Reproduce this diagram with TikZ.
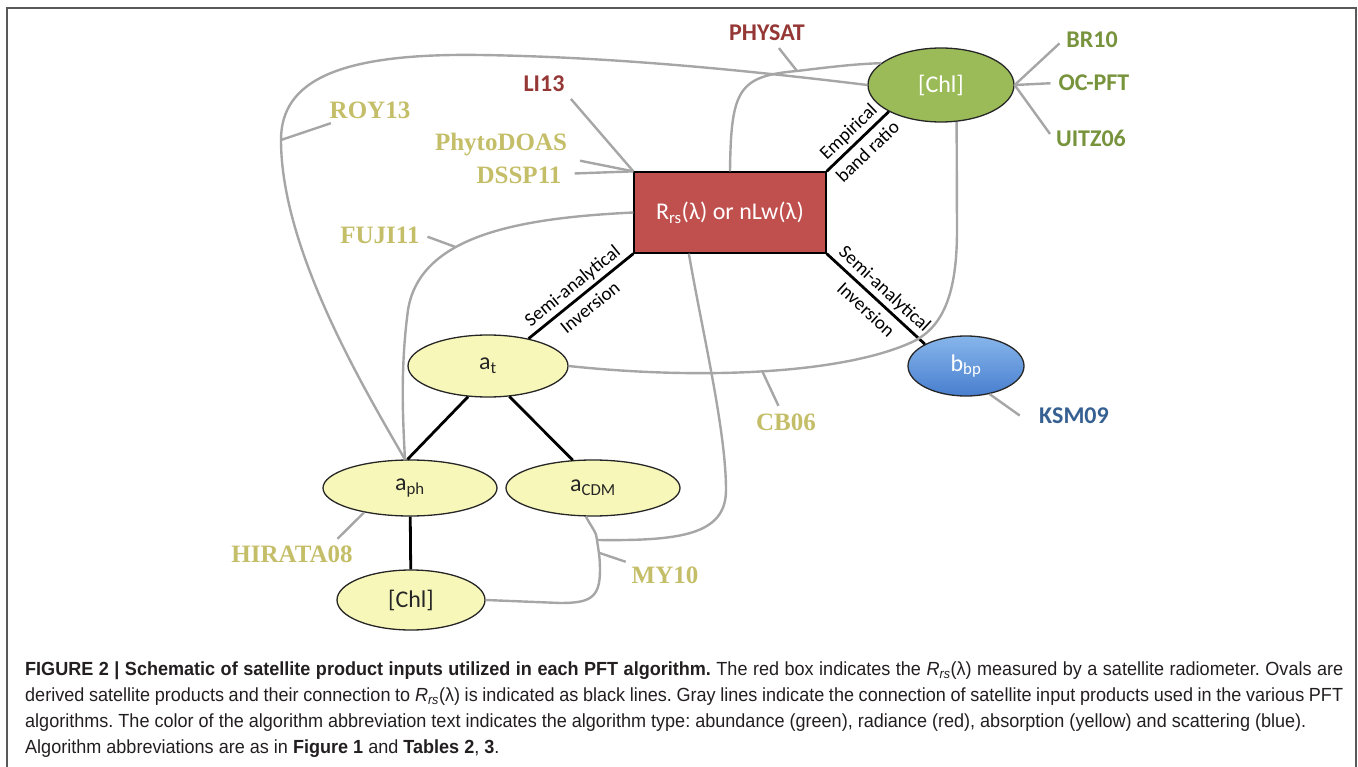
\documentclass[tikz,border=0pt]{standalone}
\usepackage{fontspec}
\setmainfont{Liberation Sans}
\newfontfamily\calfont{Carlito}
\newfontfamily\romfont{Liberation Serif}
\newfontfamily\capfont[FakeStretch=0.95]{Liberation Sans}
\usetikzlibrary{shapes.geometric}
\definecolor{boxred}{RGB}{192,80,77}
\definecolor{chlgreen}{RGB}{155,187,89}
\definecolor{absfill}{RGB}{248,247,186}
\definecolor{bbptop}{RGB}{135,182,236}
\definecolor{bbpbot}{RGB}{72,126,206}
\definecolor{radtxt}{RGB}{149,55,53}
\definecolor{abutxt}{RGB}{119,147,60}
\definecolor{abstxt}{RGB}{196,190,105}
\definecolor{scatxt}{RGB}{55,96,146}
\definecolor{captxt}{RGB}{35,31,32}
\colorlet{link}{black!35}
\colorlet{frame}{black!65}
\tikzset{
    oval/.style={ellipse,draw=black!85,line width=1.3pt,inner sep=0pt,font=\calfont\fontsize{24}{28}\selectfont},
    yel/.style={oval,fill=absfill,text=black!85},
    wide/.style={minimum width=174pt,minimum height=56pt},
    rrsbox/.style={rectangle,draw=black,line width=1.3pt,fill=boxred,text=white,inner sep=0pt,
        minimum width=192pt,minimum height=81pt,font=\calfont\fontsize{24}{28}\selectfont},
    grayline/.style={draw=link,line width=2.4pt},
    leader/.style={grayline,shorten <=5pt},
    blackline/.style={draw=black,line width=2.8pt},
    bandlbl/.style={midway,sloped,align=center,inner sep=0pt,font=\calfont\fontsize{19}{28}\selectfont},
    serlbl/.style={inner sep=3pt,text=abstxt,font=\romfont\bfseries\fontsize{25}{28}\selectfont},
    sanlbl/.style={inner sep=3pt,font=\calfont\bfseries\fontsize{24}{28}\selectfont},
    radlbl/.style={sanlbl,text=radtxt},
    abulbl/.style={sanlbl,text=abutxt},
    scalbl/.style={sanlbl,text=scatxt},
    caption/.style={inner sep=0pt,text width=1318pt,align=justify,text=captxt,
        font=\capfont\fontsize{19}{26}\selectfont}
}

\begin{document}
\begin{tikzpicture}[x=1pt,y=-1pt]
    \useasboundingbox (0,0) rectangle (1358,767);
    \draw[frame,line width=1.6pt] (7,767) -- (7,8) -- (1356,8) -- (1356,767);

    % satellite products
    \node[rrsbox] (rrs) at (730,212.5) {R\textsubscript{rs}(λ) or nLw(λ)};
    \node[oval,fill=chlgreen,text=white,minimum width=146pt,minimum height=74pt] (chl) at (941,85) {[Chl]};
    \node[yel,minimum width=160pt,minimum height=62pt] (at) at (488,366) {a\textsubscript{t}};
    \node[oval,top color=bbptop,bottom color=bbpbot,text=white,minimum width=116pt,minimum height=60pt] (bbp) at (966,366) {b\textsubscript{bp}};
    \node[yel,wide] (aph) at (410,488) {a\textsubscript{ph}};
    \node[yel,wide] (acdm) at (593,488) {a\textsubscript{CDM}};
    \node[yel,minimum width=148pt,minimum height=60pt] (chlb) at (411,600) {[Chl]};

    % algorithm abbreviations
    \foreach \nm/\sty/\x/\y/\txt in {
        physat/radlbl/767/33/PHYSAT, li/radlbl/544/84/LI13,
        roy/serlbl/370/110/ROY13, phyto/serlbl/501/145/PhytoDOAS,
        dssp/serlbl/519/175.5/DSSP11, fuji/serlbl/380/235/FUJI11,
        cb/serlbl/786/422/CB06, hirata/serlbl/292/554/HIRATA08,
        my/serlbl/665/575/MY10,
        br/abulbl/1092/40/BR10, oc/abulbl/1094/83/OC-PFT, uitz/abulbl/1091/138/UITZ06,
        ksm/scalbl/1074/416/KSM09} {
        \node[\sty] (\nm) at (\x,\y) {\txt};
    }

    % black links
    \draw[blackline] (rrs.north east) -- node[bandlbl] {Empirical\\band ratio} (chl.-153);
    \draw[blackline] (rrs.south west) -- node[bandlbl] {Semi-analytical\\Inversion} (at.34);
    \draw[blackline] (rrs.south east) -- node[bandlbl] {Semi-analytical\\Inversion} (bbp.152);
    \draw[blackline] (at.-123) -- (aph.95);
    \draw[blackline] (at.-55) -- (acdm.126);
    \draw[blackline] (aph) -- (chlb);

    % gray links
    \draw[grayline] (chl.west) .. controls (760,72) and (620,57) .. (480,55)
        .. controls (340,53) and (281,80) .. (281,140) coordinate (royhit)
        .. controls (281,250) and (365,390) .. (aph.100);
    \draw[grayline] (rrs.west) .. controls (520,218) and (420,235) .. (408,310) coordinate[pos=0.62] (fujihit)
        .. controls (400,370) and (403,420) .. (aph.100);
    \draw[grayline] (rrs.north) .. controls (731,90) and (738,76) .. (797,71) coordinate (physathit)
        .. controls (830,67) and (855,64) .. (chl.160);
    \draw[grayline] (at.east) .. controls (700,380) and (840,374) .. (910,343) coordinate[pos=0.5] (cbhit)
        .. controls (945,328) and (957,290) .. (957,230) -- (chl.-67);
    \draw[grayline] (acdm.-104) .. controls (592,528) and (597,533) .. (597,540) coordinate (myjoin)
        .. controls (598,548) and (600,556) .. (600,570) coordinate[pos=0.5] (myhit)
        .. controls (600,598) and (590,603) .. (560,603) -- (chlb.east);
    \draw[grayline] (rrs.-135) .. controls (702,330) and (726,430) .. (726,490)
        .. controls (726,535) and (680,541) .. (myjoin);

    % leaders to the abbreviations
    \draw[leader] (roy) -- (royhit);
    \draw[leader] (li.south east) -- (rrs.north west);
    \draw[leader,shorten <=10pt] (phyto) -- (rrs.north west);
    \draw[leader,shorten <=10pt] (dssp) -- (rrs.north west);
    \draw[leader] (fuji.east) -- (fujihit);
    \draw[leader] (physat) -- (physathit);
    \draw[leader] (br.west) -- (chl.east);
    \draw[leader] (oc.west) -- (chl.east);
    \draw[leader] (uitz.west) -- (chl.east);
    \draw[leader,shorten <=20pt] (ksm.south west) -- (bbp.-50);
    \draw[leader] (cb) -- (cbhit);
    \draw[leader] (my) -- (myhit);
    \draw[leader] ([xshift=-22pt]hirata.north east) -- (aph.-152);

    % caption
    \node[caption,anchor=north west] (cap) at (25,662) {\noindent\frenchspacing
        \textbf{FIGURE 2 | Schematic of satellite product inputs utilized in each PFT algorithm.} The red box indicates the \textit{R}\textsubscript{\textit{rs}}(λ) measured by a satellite radiometer. Ovals are\linebreak
        derived satellite products and their connection to \textit{R}\textsubscript{\textit{rs}}(λ) is indicated as black lines. Gray lines indicate the connection of satellite input products used in the various PFT\linebreak
        algorithms. The color of the algorithm abbreviation text indicates the algorithm type: abundance (green), radiance (red), absorption (yellow) and scattering (blue).\newline
        Algorithm abbreviations are as in \textbf{Figure 1} and \textbf{Tables 2}, \textbf{3}.};
\end{tikzpicture}
\end{document}
